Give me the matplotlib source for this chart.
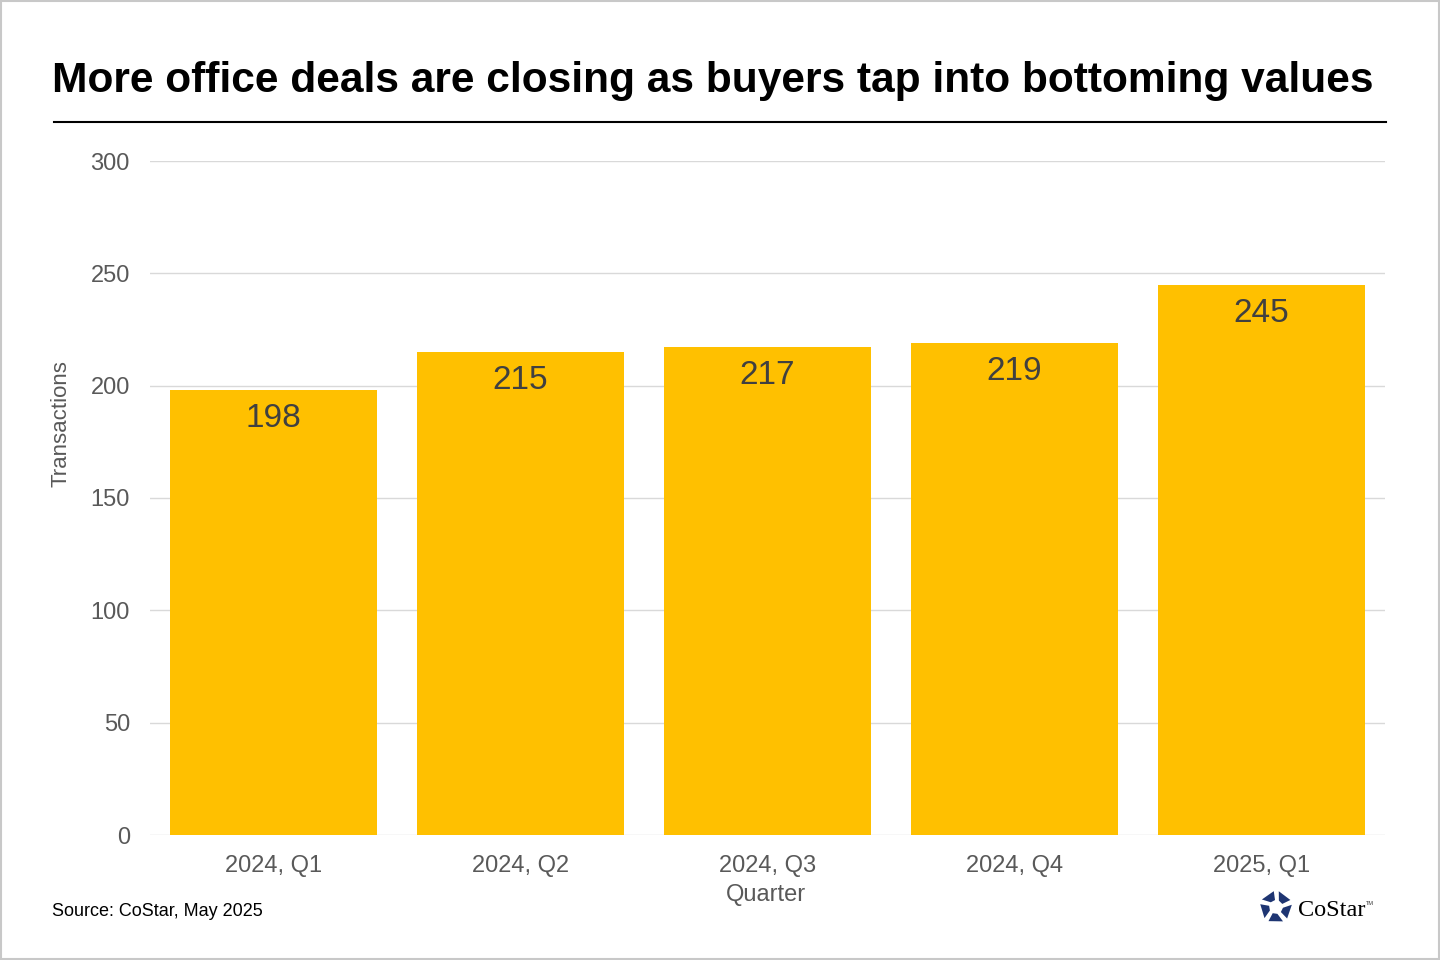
import matplotlib
matplotlib.use("Agg")
import matplotlib.pyplot as plt
from matplotlib.patches import Rectangle, Polygon
from matplotlib.lines import Line2D
import numpy as np

plt.rcParams['font.family'] = ['Liberation Sans', 'DejaVu Sans']

categories = ["2024, Q1", "2024, Q2", "2024, Q3", "2024, Q4", "2025, Q1"]
transactions = [198, 215, 217, 219, 245]
y_ticks = [0, 50, 100, 150, 200, 250, 300]

title = "More office deals are closing as buyers tap into bottoming values"
source = "Source: CoStar, May 2025"

W, H = 1440, 960
fig = plt.figure(figsize=(W / 100, H / 100), dpi=100)
fig.patch.set_facecolor("white")

ax = fig.add_axes([150 / W, 1 - 835 / H, 1235 / W, (835 - 161) / H])
x = np.arange(len(categories))
bars = ax.bar(x, transactions, width=0.838, color="#FFC000", zorder=3)
ax.set_xlim(-0.5, len(categories) - 0.5)
ax.set_ylim(0, 300)
ax.set_yticks(y_ticks)
ax.set_yticklabels([str(t) for t in y_ticks])
ax.set_xticks(x)
ax.set_xticklabels(categories)
ax.grid(axis="y", color="#d9d9d9", linewidth=1.0, zorder=0)
ax.set_axisbelow(True)
for s in ax.spines.values():
    s.set_visible(False)
ax.tick_params(axis="both", length=0, labelsize=17, labelcolor="#595959")
ax.tick_params(axis="x", pad=14.3)
ax.tick_params(axis="y", pad=14.5)

for xi, v in zip(x, transactions):
    ax.annotate(str(v), xy=(xi, v), xytext=(0, -20.5), textcoords="offset points",
                ha="center", va="center", fontsize=24, color="#404040", zorder=4)

# Title and rule
fig.text(52 / W, 1 - 81 / H, title, ha="left", va="center", fontsize=30.6,
         fontweight="bold", color="black")
fig.add_artist(Line2D([54 / W, 1386 / W], [1 - 122 / H, 1 - 122 / H],
                      color="black", linewidth=1.5, transform=fig.transFigure))

# Axis labels
fig.text(766 / W, 1 - 895 / H, "Quarter", ha="center", va="center",
         fontsize=17, color="#595959")
fig.text(61 / W, 1 - 424 / H, "Transactions", ha="center", va="center",
         rotation=90, fontsize=16, color="#595959")

# Source
fig.text(52 / W, 1 - 916 / H, source, ha="left", va="baseline",
         fontsize=13, color="black")

# CoStar logo (approximation)
cx, cy, r_out, r_in = 1276, 907, 16, 7
for k in range(5):
    a0 = np.deg2rad(90 + 72 * k + 8)
    a1 = np.deg2rad(90 + 72 * k + 62)
    pts = [
        (cx + r_in * np.cos(a0), cy - r_in * np.sin(a0)),
        (cx + r_out * np.cos(a0), cy - r_out * np.sin(a0)),
        (cx + r_out * np.cos(a1), cy - r_out * np.sin(a1)),
        (cx + r_in * np.cos(a1 - 0.25), cy - r_in * np.sin(a1 - 0.25)),
    ]
    pts = [(px / W, 1 - py / H) for px, py in pts]
    fig.add_artist(Polygon(pts, closed=True, facecolor="#1e3572",
                           edgecolor="none", transform=fig.transFigure))
fig.text(1298 / W, 1 - 916 / H, "CoStar", ha="left", va="baseline",
         fontsize=17.5, family=["Liberation Serif", "DejaVu Serif"], color="black")
fig.text(1366 / W, 1 - 905 / H, "TM", ha="left", va="baseline",
         fontsize=4, color="#333333")

# Border
fig.add_artist(Rectangle((1 / W, 1 / H), 1 - 2 / W, 1 - 2 / H, fill=False,
                         edgecolor="#c8c8c8", linewidth=1.5,
                         transform=fig.transFigure))

fig.savefig("out.png", dpi=100, facecolor="white")
